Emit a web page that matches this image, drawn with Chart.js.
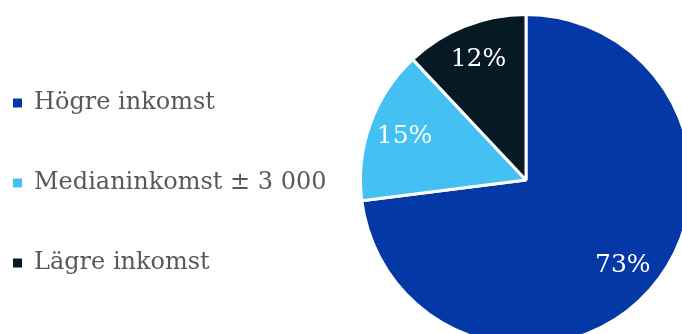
<!DOCTYPE html>
<html>
<head>
    <meta charset="utf-8">
    <style>
        html, body {
            margin: 0;
            padding: 0;
            background: #ffffff;
            overflow: hidden;
            width: 682px;
            height: 334px;
        }
        .chart-wrap {
            position: absolute;
            left: -43px;
            top: 13px;
            width: 1138px;
            height: 334px;
        }
    </style>
</head>
<body>
    <div class="chart-wrap">
        <canvas id="incomeChart"></canvas>
    </div>

    <script src="https://cdn.jsdelivr.net/npm/chart.js@4/dist/chart.umd.min.js"></script>
    <script>
        const categories = ['Högre inkomst', 'Medianinkomst ± 3 000', 'Lägre inkomst'];
        const shares = [73, 15, 12];
        const sliceColors = ['#0438a7', '#44c1f2', '#061a26'];

        const fontFamily = '"DejaVu Serif", serif';

        // percent labels inside the slices
        const sliceLabels = {
            id: 'sliceLabels',
            afterDatasetsDraw(chart) {
                const ctx = chart.ctx;
                const meta = chart.getDatasetMeta(0);
                ctx.save();
                ctx.fillStyle = '#ffffff';
                ctx.font = '25px ' + fontFamily;
                ctx.textAlign = 'center';
                ctx.textBaseline = 'middle';
                meta.data.forEach((arc, i) => {
                    const p = arc.getProps(['x', 'y', 'startAngle', 'endAngle', 'outerRadius'], true);
                    const mid = (p.startAngle + p.endAngle) / 2;
                    const r = p.outerRadius * 0.78;
                    ctx.fillText(shares[i] + '%', p.x + Math.cos(mid) * r, p.y + Math.sin(mid) * r);
                });
                ctx.restore();
            }
        };

        new Chart(document.getElementById('incomeChart'), {
            type: 'pie',
            data: {
                labels: categories,
                datasets: [{
                    data: shares,
                    backgroundColor: sliceColors,
                    borderColor: '#ffffff',
                    borderWidth: 3
                }]
            },
            options: {
                responsive: true,
                maintainAspectRatio: false,
                animation: false,
                layout: { padding: 0 },
                plugins: {
                    legend: {
                        position: 'chartArea',
                        align: 'center',
                        title: {
                            display: true,
                            text: '',
                            padding: 0,
                            font: { size: 5, lineHeight: 1.2 }
                        },
                        labels: {
                            boxWidth: 9,
                            boxHeight: 9,
                            padding: 56,
                            color: '#595959',
                            font: { family: fontFamily, size: 24 },
                            generateLabels(chart) {
                                const items = Chart.overrides.pie.plugins.legend.labels.generateLabels(chart);
                                items.forEach(item => { item.lineWidth = 0; });
                                return items;
                            }
                        }
                    },
                    tooltip: { enabled: false }
                }
            },
            plugins: [sliceLabels]
        });
    </script>
</body>
</html>
